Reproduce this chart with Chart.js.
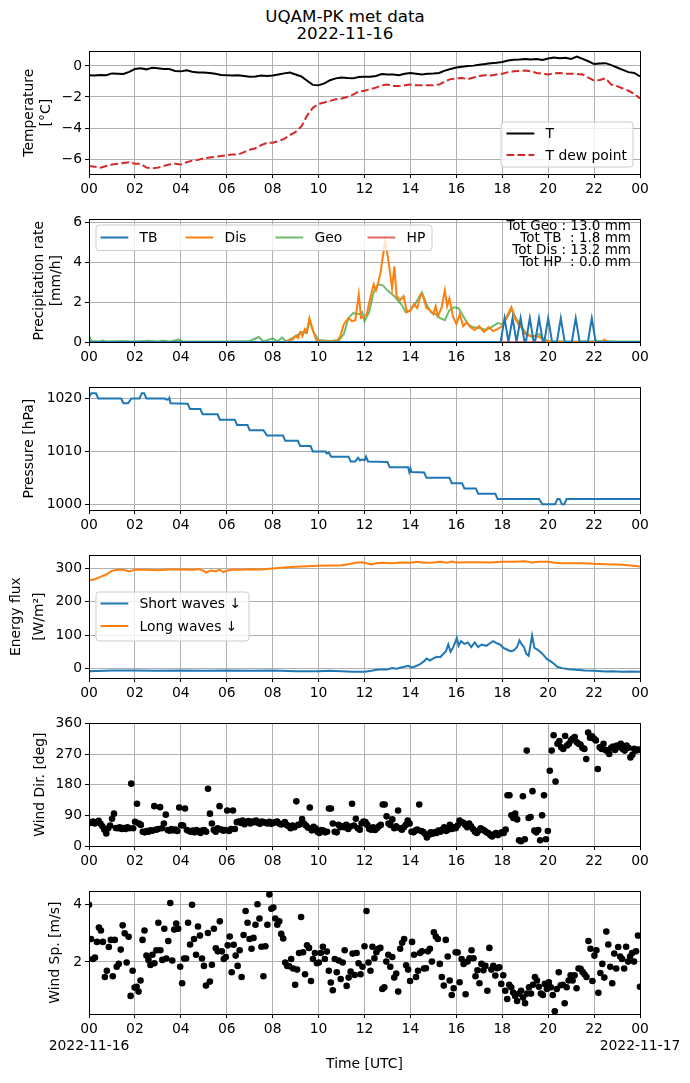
<!DOCTYPE html>
<html><head><meta charset="utf-8">
<script src="https://cdn.jsdelivr.net/npm/chart.js@4.4.0/dist/chart.umd.min.js"></script>
<style>
html,body{margin:0;padding:0;background:#fff;}
body{width:690px;height:1083px;position:relative;overflow:hidden;font-family:"DejaVu Sans";}
canvas{position:absolute;left:0;}
#title{position:absolute;left:0;width:690px;top:8px;text-align:center;font-size:16.7px;line-height:16.6px;color:#000;font-family:"DejaVu Sans";}
</style></head><body>
<div id="title">UQAM-PK met data<br>2022-11-16</div>
<canvas id="c1"></canvas><canvas id="c2"></canvas><canvas id="c3"></canvas>
<canvas id="c4"></canvas><canvas id="c5"></canvas><canvas id="c6"></canvas>
<script>
// ---------------- DATA ----------------
const xTicks = [0,2,4,6,8,10,12,14,16,18,20,22,24];
const dateStart = '2022-11-16';
const dateEnd = '2022-11-17';

// Temperature (°C), evenly sampled over the day
const tempT = [-0.6,-0.62,-0.58,-0.6,-0.48,-0.5,-0.52,-0.38,-0.2,-0.15,-0.22,-0.12,-0.15,-0.2,-0.2,-0.33,
 -0.35,-0.28,-0.38,-0.42,-0.42,-0.45,-0.5,-0.58,-0.6,-0.62,-0.6,-0.65,-0.7,-0.68,-0.62,-0.65,
 -0.62,-0.55,-0.48,-0.42,-0.55,-0.68,-0.95,-1.22,-1.25,-1.12,-0.92,-0.8,-0.75,-0.78,-0.8,-0.72,
 -0.7,-0.7,-0.65,-0.52,-0.55,-0.55,-0.6,-0.5,-0.45,-0.5,-0.55,-0.5,-0.48,-0.45,-0.3,-0.2,
 -0.1,-0.05,0.0,0.02,0.08,0.12,0.18,0.2,0.25,0.35,0.4,0.42,0.45,0.42,0.45,0.38,
 0.48,0.55,0.5,0.52,0.45,0.6,0.45,0.3,0.12,0.15,0.18,0.05,-0.1,-0.25,-0.4,-0.45,-0.68];
const tempTd = [-6.45,-6.5,-6.55,-6.45,-6.35,-6.3,-6.25,-6.2,-6.3,-6.3,-6.55,-6.6,-6.55,-6.45,-6.35,-6.3,
 -6.35,-6.2,-6.1,-6.05,-5.95,-5.9,-5.85,-5.8,-5.75,-5.7,-5.7,-5.55,-5.4,-5.3,-5.1,-4.95,
 -4.95,-4.85,-4.7,-4.45,-4.25,-3.9,-3.2,-2.7,-2.45,-2.35,-2.25,-2.15,-2.1,-2.0,-1.85,-1.65,
 -1.6,-1.5,-1.4,-1.25,-1.2,-1.3,-1.3,-1.25,-1.2,-1.25,-1.25,-1.25,-1.25,-1.2,-1.0,-0.85,
 -0.8,-0.78,-0.85,-0.75,-0.65,-0.6,-0.62,-0.55,-0.5,-0.4,-0.35,-0.32,-0.3,-0.35,-0.45,-0.5,
 -0.55,-0.48,-0.45,-0.5,-0.5,-0.52,-0.55,-0.75,-0.95,-0.9,-0.8,-1.2,-1.3,-1.45,-1.6,-1.8,-2.1];

// Precipitation rate (mm/h)
const tbTimes = [0,17.93,18.1,18.27,18.28,18.45,18.62,18.63,18.8,18.97,19.03,19.2,19.37,19.43,19.6,19.77,19.83,20.0,20.17,20.38,20.55,20.72,21.03,21.2,21.37,21.73,21.9,22.07,24];
const tbRate  = [0,0,1.2,0,0,1.2,0,0,1.2,0,0,1.2,0,0,1.2,0,0,1.2,0,0,1.2,0,0,1.2,0,0,1.2,0,0];
const disTimes = [0,8.5,8.9,9.0,9.1,9.2,9.3,9.4,9.5,9.6,9.75,9.9,10.2,10.8,10.95,11.1,11.3,11.45,11.6,11.75,11.85,12.0,12.1,12.25,12.4,12.5,12.6,12.7,12.8,12.9,13.0,13.1,13.2,13.3,13.4,13.55,13.7,13.85,14.0,14.15,14.3,14.45,14.55,14.7,14.85,15.0,15.1,15.2,15.35,15.5,15.6,15.7,15.85,16.0,16.15,16.3,16.45,16.6,16.8,17.0,17.2,17.4,17.6,17.8,18.0,18.2,18.4,18.55,18.7,18.85,19.0,19.2,19.5,19.7,19.9,20.1,22.3,22.45,22.6,24];
const disRate  = [0,0,0.15,0.3,0.2,0.5,0.3,0.65,0.5,1.2,0.6,0.1,0.02,0.05,0.3,0.9,1.2,1.05,1.1,2.4,1.2,1.3,1.4,2.2,2.9,2.6,3.0,3.5,4.3,5.1,4.4,3.6,2.7,3.8,2.3,2.1,2.3,1.5,1.6,1.9,1.7,2.4,2.3,1.7,1.6,1.4,1.8,1.3,1.7,2.6,1.8,2.2,1.3,0.9,1.4,0.8,1.0,0.75,0.6,0.8,0.5,0.75,0.55,0.65,0.8,1.3,1.75,1.2,0.9,0.7,0.4,0.3,0.3,0.2,0.05,0,0,0.12,0,0];
const geoTimes = [0,0.1,0.4,0.6,0.8,1.5,1.9,2.6,3.0,3.2,3.5,3.9,4.1,5.0,6.0,7.0,7.4,7.6,8.0,8.2,8.4,8.6,9.0,9.3,9.45,9.6,9.8,10.0,10.5,10.9,11.1,11.3,11.5,11.8,11.9,12.0,12.2,12.4,12.6,12.8,13.0,13.3,13.6,13.8,14.0,14.2,14.5,14.7,14.9,15.1,15.3,15.5,15.7,15.9,16.1,16.3,16.5,16.7,17.0,17.3,17.6,17.8,18.0,18.2,18.4,18.6,18.8,19.0,19.3,19.6,19.8,20.0,21,22.5,23,24];
const geoRate  = [0.3,0.05,0.02,0.08,0.02,0.05,0.02,0.06,0.02,0.07,0.02,0.12,0.02,0.03,0.02,0.05,0.25,0.03,0.18,0.03,0.22,0.03,0.3,0.5,0.45,1.05,0.45,0.1,0.05,0.1,0.4,1.2,1.45,1.4,1.5,1.05,1.5,2.5,2.9,2.85,2.6,2.3,1.9,1.5,1.6,1.9,2.5,1.9,1.5,1.4,1.2,1.1,1.6,1.75,1.7,1.3,0.9,0.75,0.7,0.6,0.8,0.95,0.9,1.2,1.65,1.2,0.85,0.5,0.25,0.4,0.15,0.05,0.03,0.05,0.03,0.03];
const hpTimes = [0,24];
const hpRate  = [0,0];
const precipTotals = ['Tot Geo : 13.0 mm','Tot TB  : 1.8 mm','Tot Dis : 13.2 mm','Tot HP  : 0.0 mm'];

// Pressure (hPa)
const presTimes = [0,0.1,0.3,0.4,1.4,1.5,1.7,1.85,2.2,2.3,2.4,2.5,3.3,3.35,3.45,3.5,3.55,4.3,4.4,4.85,4.95,5.6,5.7,6.35,6.45,6.9,7.0,7.6,7.75,8.45,8.55,9.1,9.2,9.65,9.75,10.3,10.35,10.45,10.55,11.3,11.4,11.6,11.72,11.8,11.9,12.0,12.07,12.15,13.0,13.1,13.9,13.95,14.0,14.05,14.6,14.7,15.7,15.8,16.25,16.35,16.85,16.95,17.7,17.8,19.6,19.75,20.3,20.4,20.5,20.6,20.7,20.8,24];
const presVal   = [1020.3,1021,1021,1020,1020,1019.1,1019.1,1020,1020,1021,1021,1020,1020,1019.8,1019.8,1020.1,1019.1,1019,1018,1018,1017,1017,1016,1016,1015,1015,1014,1014,1013,1013,1012,1012,1011,1011,1010,1010,1009.6,1009.8,1009,1009,1008.1,1008.1,1008.8,1008.3,1008.5,1008.3,1009,1008.1,1008,1007,1007,1006.1,1006.8,1006.1,1006,1005,1005,1004,1004,1003,1003,1002,1002,1001,1001,1000,1000,1001,1001,1000,1000,1001,1001];

// Energy flux (W/m2)
const lwTimes = [0,0.25,0.5,0.75,1,1.25,1.5,1.75,2,2.5,3,3.5,4,4.5,4.8,5.0,5.1,5.3,5.5,5.7,5.85,6.0,6.3,6.6,7,7.5,8,8.5,9,9.5,10,10.5,11,11.3,11.6,11.9,12.1,12.3,12.5,12.8,13.2,13.6,14,14.3,14.6,15,15.3,15.6,15.8,16,16.5,17,17.5,18,18.5,19,19.3,19.6,20,20.3,20.6,21,21.5,22,22.5,23,23.5,24];
const lwFlux  = [265,268,275,282,293,296,296,291,296,296,295,297,297,296,298,293,288,294,292,296,289,293,297,296,298,297,300,303,305,307,308,309,310,313,317,319,316,312,316,317,316,318,317,320,317,318,320,317,321,318,319,319,318,320,320,322,318,320,320,317,316,316,316,314,313,312,310,306];
const swTimes = [0,1,2,3,4,5,6,7,8,9,10,10.5,11,11.5,12,12.3,12.6,13,13.2,13.4,13.6,13.9,14.05,14.2,14.4,14.6,14.7,14.85,15.0,15.15,15.3,15.45,15.55,15.65,15.75,15.85,15.95,16.02,16.1,16.2,16.35,16.5,16.65,16.8,16.95,17.1,17.3,17.45,17.6,17.75,17.9,18.05,18.2,18.35,18.5,18.65,18.75,18.85,18.95,19.05,19.15,19.3,19.4,19.5,19.65,19.8,19.95,20.1,20.25,20.4,20.6,20.9,21.2,21.6,22,22.5,22.8,23.2,23.6,24];
const swFlux  = [-8,-6,-6,-7,-6,-7,-6,-7,-6,-8,-8,-7,-8,-10,-10,-7,-3,-3,1,-1,3,8,3,6,12,22,30,24,30,35,34,45,52,72,50,62,78,92,68,82,74,78,64,78,64,72,68,75,82,76,72,62,57,52,54,65,84,72,64,44,38,99,62,58,50,40,28,22,14,5,1,-2,-4,-6,-7,-9,-8,-10,-9,-10];

// Wind direction (deg), evenly sampled over the day
const windDir = [70,68,72,66,70,74, 65,58,48,37,52,60, 80,95,53,52,55,50, 53,50,55,52,183,52,
 71,124,66,62,42,40, 44,42,46,45,117,48, 50,114,52,66,92,47, 45,50,46,48,44,113,
 61,60,110,47,44,42, 45,40,47,43,38,45, 47,42,168,95,66,47, 42,52,117,48,45,47,
 104,44,50,104,50,70, 72,68,75,64,70,73, 66,72,70,75,68,65, 72,70,68,66,71,65,
 68,70,72,66,63,65, 70,62,58,52,60,55, 131,62,64,79,66,60, 54,113,46,56,52,42,
 38,47,45,40,42,110, 110,66,42,40,62,55, 58,55,62,50,57,124, 60,80,52,48,66,72,
 70,62,50,48,55,47, 52,58,62,122,122,87, 66,62,78,52,58,104, 52,48,55,62,75,66,
 42,40,45,48,122,44, 42,36,25,32,40,36, 40,38,45,42,48,55, 44,48,62,50,55,52,
 60,75,70,68,62,55, 66,58,50,42,38,45, 52,48,45,40,38,32, 28,34,38,32,36,40,
 38,48,149,149,90,82, 95,78,17,14,146,20, 280,82,85,161,45,40, 47,17,90,149,20,44,
 221,280,325,189,300,308, 290,285,323,295,300,310, 315,320,305,300,298,288, 285,255,333,318,322,315,
 310,226,290,285,300,282, 278,270,288,292,282,295, 290,300,285,280,295,288, 260,268,285,280,283,282];

// Wind speed (m/s), evenly sampled over the day
const windSp = [4.0,2.8,2.1,2.15,2.7,3.2,3.1,2.7,1.47,1.69, 2.52,2.77,1.5,2.77,1.83,1.93,2.43,3.28,3.0,1.98,
 2.88,0.81,1.69,1.1,1.13,0.96,1.35,2.77,3.1,2.22, 2.07,1.89,2.25,1.95,2.41,3.37,2.41,2.07,3.16,2.12,
 2.73,4.06,2.05,3.13,3.34,3.16,1.83,1.25,2.12,2.12, 3.37,2.61,4.0,2.8,2.25,3.24,2.92,2.12,1.86,1.17,
 3.01,1.31,1.9,3.16,2.48,2.37,3.42,2.37,2.1,2.17, 2.58,2.89,1.64,2.6,2.22,1.86,2.41,1.47,2.94,3.78,
 3.37,2.8,2.46,2.84,3.3,4.02,3.52,2.53,1.5,2.55, 3.3,4.36,3.86,3.9,3.52,3.3,3.42,2.98,2.82,1.98,
 1.86,1.85,2.1,1.77,1.2,1.73,2.31,3.57,2.34,1.57, 2.58,2.49,1.33,2.1,2.31,1.95,1.98,2.31,2.53,2.1,
 2.36,1.69,1.28,1.01,2.1,1.64,2.05,1.4,1.98,2.41, 1.16,1.45,1.66,2.29,1.54,2.31,1.95,1.57,1.83,2.55,
 3.78,1.98,1.69,2.53,2.13,2.34,2.46,2.49,1.05,1.11, 2.01,2.25,1.83,2.17,1.45,1.59,0.96,2.46,2.67,2.8,
 1.88,1.73,1.33,2.7,2.25,1.47,1.69,2.31,2.37,1.77, 1.78,2.37,2.46,2.01,3.04,2.89,2.8,1.93,1.47,1.17,
 2.77,2.19,1.35,0.84,1.08,2.34,2.33,1.29,2.1,1.93, 0.87,2.01,2.13,2.41,2.13,1.5,1.71,1.25,1.93,1.71,
 1.86,0.99,2.49,1.73,1.86,1.52,1.78,1.81,1.23,1.53, 0.99,0.7,1.2,1.11,0.93,0.81,0.63,0.89,0.99,0.75,
 0.55,0.89,1.11,0.89,1.2,1.47,1.35,1.13,0.89,0.84, 1.23,1.05,1.29,1.11,0.84,0.27,1.05,1.64,1.18,1.2,
 0.55,1.11,1.35,1.53,1.35,1.53,1.08,1.77,1.76,1.65, 1.57,1.47,2.73,2.46,1.33,2.22,2.41,0.92,1.61,1.93,
 1.45,3.06,2.61,1.83,1.25,2.29,1.77,2.52,2.19,2.1, 1.77,2.53,2.01,2.19,2.31,2.01,2.37,2.92,1.13];

// ---------------- RENDER ----------------
const FONT = 'DejaVu Sans';
const FS = 13.9;
Chart.defaults.font.family = FONT;
Chart.defaults.font.size = FS;
Chart.defaults.color = '#000';

const PLOT_LEFT = 89, PLOT_W = 551, PLOT_H = 124, PAD_TOP = 10;
const C_BLUE = '#1f77b4', C_ORANGE = '#ff7f0e', C_GREEN = 'rgba(44,160,44,0.7)', C_RED = 'rgba(214,39,40,0.7)';

function evenTimes(n){ return Array.from({length:n},(_,i)=> i*24/(n-1)); }
function pairs(xs, ys){ return ys.map((y,i)=>({x:xs[i], y:y})); }
function hourLabel(v){ const h = ((v%24)+24)%24; return String(h).padStart(2,'0'); }
function minusLabel(v){ return v < 0 ? '\u2212' + Math.abs(v) : String(v); }

const framePlugin = {
  id:'frame',
  afterDatasetsDraw(chart){
    const a = chart.chartArea, c = chart.ctx;
    c.save(); c.strokeStyle = '#000'; c.lineWidth = 1;
    c.strokeRect(Math.round(a.left)+0.5, Math.round(a.top)+0.5, Math.round(a.right)-Math.round(a.left), Math.round(a.bottom)-Math.round(a.top));
    c.restore();
  }
};

function legendPlugin(spec){
  return {
    id:'mleg',
    afterDraw(chart){
      const c = chart.ctx, t = spec.canvasTop;
      c.save();
      const x = spec.box[0], y = spec.box[1]-t, w = spec.box[2], h = spec.box[3], r = 3;
      c.beginPath();
      c.moveTo(x+r,y); c.lineTo(x+w-r,y); c.quadraticCurveTo(x+w,y,x+w,y+r);
      c.lineTo(x+w,y+h-r); c.quadraticCurveTo(x+w,y+h,x+w-r,y+h);
      c.lineTo(x+r,y+h); c.quadraticCurveTo(x,y+h,x,y+h-r);
      c.lineTo(x,y+r); c.quadraticCurveTo(x,y,x+r,y); c.closePath();
      c.fillStyle = 'rgba(255,255,255,0.8)'; c.fill();
      c.strokeStyle = '#cccccc'; c.lineWidth = 1; c.stroke();
      c.font = FS + 'px "' + FONT + '"';
      c.textBaseline = 'middle'; c.textAlign = 'left';
      spec.items.forEach(it => {
        const yy = it.y - t;
        c.beginPath(); c.strokeStyle = it.color; c.lineWidth = 2;
        c.setLineDash(it.dash || []);
        c.moveTo(it.x, yy); c.lineTo(it.x + 27.8, yy); c.stroke();
        c.setLineDash([]);
        c.fillStyle = '#000';
        c.fillText(it.label, it.x + 39, yy + 1);
      });
      c.restore();
    }
  };
}

function textPlugin(spec){
  return {
    id:'mtext',
    afterDatasetsDraw(chart){
      const c = chart.ctx;
      c.save();
      c.font = spec.size + 'px "' + FONT + '"';
      c.fillStyle = '#000'; c.textAlign = 'right'; c.textBaseline = 'middle';
      spec.lines.forEach((s,i)=> c.fillText(s, spec.x, spec.y0 - spec.canvasTop + i*spec.dy));
      c.restore();
    }
  };
}

function makeChart(id, o){
  const cv = document.getElementById(id);
  const xh = o.xh || 30;
  const top = o.plotTop - PAD_TOP;
  const hgt = PAD_TOP + PLOT_H + xh;
  cv.width = 690; cv.height = hgt;
  cv.style.width = '690px'; cv.style.height = hgt + 'px';
  cv.style.top = top + 'px';
  const gridOpt = {color:'#b0b0b0', lineWidth:1, tickLength:4, tickColor:'#000', drawTicks:true};
  const plugins = [framePlugin];
  if (o.legend) plugins.push(legendPlugin(Object.assign({canvasTop:top}, o.legend)));
  if (o.text) plugins.push(textPlugin(Object.assign({canvasTop:top}, o.text)));
  return new Chart(cv, {
    type:'line',
    data:{datasets:o.datasets},
    plugins:plugins,
    options:{
      responsive:false, animation:false, maintainAspectRatio:false, devicePixelRatio:1,
      layout:{padding:{top:PAD_TOP, left:0, right:690-PLOT_LEFT-PLOT_W, bottom:0}},
      plugins:{legend:{display:false}, tooltip:{enabled:false}},
      elements:{line:{tension:0}},
      scales:{
        x:{type:'linear', min:0, max:24,
           afterBuildTicks:s=>{ s.ticks = xTicks.map(v=>({value:v})); },
           afterFit:s=>{ s.height = xh; },
           ticks:{callback:o.xcb || hourLabel, autoSkip:false, maxRotation:0, minRotation:0, padding:3},
           grid:gridOpt, border:{display:false},
           title: o.xtitle || {display:false}},
        y:{type:'linear', min:o.ymin, max:o.ymax,
           afterBuildTicks:s=>{ s.ticks = o.yticks.map(v=>({value:v})); },
           afterFit:s=>{ s.width = PLOT_LEFT; },
           ticks:{callback:o.ycb || (v=>String(v)), padding:3},
           grid:gridOpt, border:{display:false},
           title:{display:true, text:o.ytitle, padding:{top:o.ypad, bottom:0}, font:{size:FS, lineHeight:o.ylh || 1.2}}}
      }
    }
  });
}

function lineDs(xs, ys, color, extra){
  return Object.assign({data:pairs(xs, ys), borderColor:color, backgroundColor:color, borderWidth:2, pointRadius:0, fill:false, clip:0}, extra||{});
}
function dotDs(xs, ys){
  return {data:pairs(xs, ys), showLine:false, pointRadius:3.3, pointBackgroundColor:'#000', pointBorderWidth:0, borderColor:'#000', clip:0};
}

const tT = evenTimes(tempT.length), tTd = evenTimes(tempTd.length);

makeChart('c1', {
  plotTop:50, ymin:-6.96, ymax:0.94, yticks:[-6,-4,-2,0], ycb:minusLabel,
  ytitle:['Temperature','[\u00b0C]'], ypad:21,
  datasets:[ lineDs(tT, tempT, '#000'), lineDs(tTd, tempTd, '#d62728', {borderDash:[7.7,3.3]}) ],
  legend:{box:[501,122,132,45], items:[
    {label:'T', color:'#000', x:506.5, y:133.5},
    {label:'T dew point', color:'#d62728', dash:[7.7,3.3], x:506.5, y:155}
  ]}
});

makeChart('c2', {
  plotTop:218, ymin:0, ymax:6.17, yticks:[0,2,4,6],
  ytitle:['Precipitation rate','[mm/h]'], ypad:31.5,
  datasets:[ lineDs(tbTimes, tbRate, C_BLUE), lineDs(disTimes, disRate, C_ORANGE),
             lineDs(geoTimes, geoRate, C_GREEN), lineDs(hpTimes, hpRate, C_RED) ],
  legend:{box:[96,225,336,25.5], items:[
    {label:'TB', color:C_BLUE, x:100.5, y:237.5},
    {label:'Dis', color:C_ORANGE, x:185.5, y:237.5},
    {label:'Geo', color:C_GREEN, x:275.5, y:237.5},
    {label:'HP', color:C_RED, x:367.5, y:237.5}
  ]},
  text:{lines:precipTotals, x:631, y0:226, dy:12.3, size:13.5}
});

makeChart('c3', {
  plotTop:386, ymin:998.93, ymax:1022.1, yticks:[1000,1010,1020],
  ytitle:'Pressure [hPa]', ypad:21.5,
  datasets:[ lineDs(presTimes, presVal, C_BLUE) ]
});

makeChart('c4', {
  plotTop:554, ymin:-28.6, ymax:339.5, yticks:[0,100,200,300],
  ytitle:['Energy flux','[W/m\u00b2]'], ypad:4.2, ylh:1.7,
  datasets:[ lineDs(swTimes, swFlux, C_BLUE), lineDs(lwTimes, lwFlux, C_ORANGE) ],
  legend:{box:[96,592,153,49], items:[
    {label:'Short waves \u2193', color:C_BLUE, x:100.5, y:603.5},
    {label:'Long waves \u2193', color:C_ORANGE, x:100.5, y:626}
  ]}
});

makeChart('c5', {
  plotTop:722, ymin:0, ymax:360, yticks:[0,90,180,270,360],
  ytitle:'Wind Dir. [deg]', ypad:32,
  datasets:[ dotDs(evenTimes(windDir.length), windDir) ]
});

makeChart('c6', {
  plotTop:890, ymin:0.176, ymax:4.47, yticks:[2,4],
  ytitle:'Wind Sp. [m/s]', ypad:47.5, xh:69,
  xcb: v => v === 0 ? ['00', dateStart] : (v === 24 ? ['00', dateEnd] : hourLabel(v)),
  xtitle:{display:true, text:'Time [UTC]', padding:{top:0, bottom:10}},
  datasets:[ dotDs(evenTimes(windSp.length), windSp) ]
});
</script>
</body></html>
